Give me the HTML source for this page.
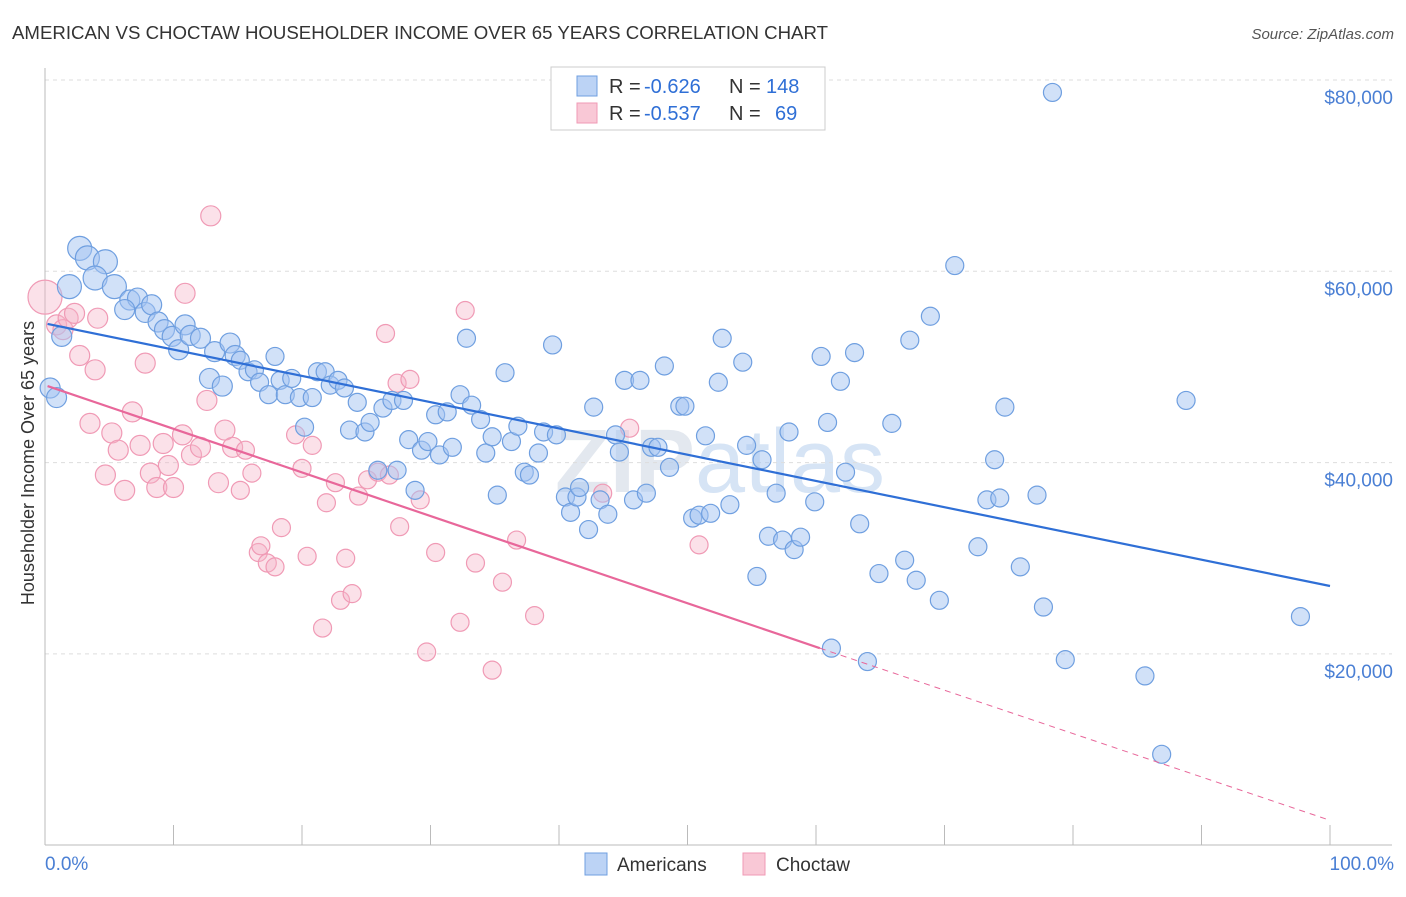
<!DOCTYPE html>
<html><head><meta charset="utf-8"><style>
body{margin:0;background:#fff;font-family:"Liberation Sans",sans-serif}
svg text{font-family:"Liberation Sans",sans-serif}
</style></head><body>
<svg id="chart" width="1406" height="892" xmlns="http://www.w3.org/2000/svg">
<text x="12" y="39" font-size="18" fill="#333" textLength="816" lengthAdjust="spacingAndGlyphs">AMERICAN VS CHOCTAW HOUSEHOLDER INCOME OVER 65 YEARS CORRELATION CHART</text>
<text x="1394" y="39" font-size="15" fill="#555" text-anchor="end" font-style="italic">Source: ZipAtlas.com</text>
<text x="720" y="492" font-size="90" fill="#e3e8ef" text-anchor="middle" font-weight="bold">ZIP<tspan fill="#d6e4f5" font-weight="normal">atlas</tspan></text>
<g id="grid"></g>
<g id="axes"></g>
<g id="pink"></g>
<g id="blue"></g>
<g id="lines"></g>
<text x="0" y="0" transform="translate(34,463) rotate(-90)" font-size="18" fill="#333" text-anchor="middle">Householder Income Over 65 years</text>
<text x="45" y="870" font-size="19" fill="#4a7fd4">0.0%</text>
<text x="1394" y="870" font-size="19" fill="#4a7fd4" text-anchor="end">100.0%</text>
<g>
<rect x="551" y="67" width="274" height="63" fill="#fff" stroke="#ccc"/>
<rect x="577" y="76" width="20" height="20" fill="#bcd3f5" stroke="#6f9fe0"/>
<rect x="577" y="103" width="20" height="20" fill="#f9c8d6" stroke="#f09ab5"/>
<text x="609" y="93" font-size="20" fill="#333">R =</text>
<text x="644" y="93" font-size="20" fill="#2f6fd6">-0.626</text>
<text x="729" y="93" font-size="20" fill="#333">N =</text>
<text x="766" y="93" font-size="20" fill="#2f6fd6">148</text>
<text x="609" y="120" font-size="20" fill="#333">R =</text>
<text x="644" y="120" font-size="20" fill="#2f6fd6">-0.537</text>
<text x="729" y="120" font-size="20" fill="#333">N =</text>
<text x="775" y="120" font-size="20" fill="#2f6fd6">69</text>
</g>
<g>
<rect x="585" y="853" width="22" height="22" fill="#bcd3f5" stroke="#6f9fe0"/>
<text x="617" y="871" font-size="19" fill="#333">Americans</text>
<rect x="743" y="853" width="22" height="22" fill="#f9c8d6" stroke="#f09ab5"/>
<text x="776" y="871" font-size="19" fill="#333">Choctaw</text>
</g>
</svg>
<script>
const yTicks=[20000,40000,60000,80000];
const yTickLabels=["$20,000","$40,000","$60,000","$80,000"];
const blueX=[2.7,3.3,4.7,3.9,1.9,5.4,0.4,0.9,1.3,6.6,7.2,6.2,7.8,8.3,8.8,9.3,9.9,10.4,10.9,11.3,12.1,12.8,13.2,13.8,14.4,14.8,15.2,15.8,16.3,16.7,17.4,17.9,18.3,18.7,19.2,19.8,20.8,21.2,21.8,22.2,22.8,23.3,20.2,23.7,24.3,24.9,25.3,25.9,26.3,27.0,27.4,27.9,28.3,28.8,29.3,29.8,30.4,30.7,31.3,31.7,32.3,32.8,33.2,33.9,34.3,34.8,35.2,35.8,36.3,36.8,37.3,37.7,38.4,38.8,39.5,39.8,40.5,40.9,41.4,41.6,42.3,42.7,43.2,43.8,44.4,44.7,45.1,45.8,46.3,46.8,47.2,47.7,48.2,48.6,49.4,49.8,50.4,50.9,51.4,51.8,52.7,53.3,54.3,52.4,54.6,55.4,55.8,56.3,56.9,57.4,57.9,58.3,58.8,59.9,60.4,60.9,61.2,61.9,62.3,63.0,63.4,64.0,64.9,65.9,66.9,67.3,67.8,68.9,69.6,70.8,72.6,73.3,73.9,74.3,74.7,75.9,77.2,77.7,78.4,79.4,85.6,86.9,88.8,97.7];
const blueY=[62.4,61.4,61.0,59.3,58.4,58.4,47.8,46.8,53.2,57.0,57.2,56.0,55.7,56.5,54.7,53.9,53.2,51.8,54.4,53.3,53.0,48.8,51.6,48.0,52.5,51.2,50.7,49.5,49.7,48.4,47.1,51.1,48.6,47.1,48.8,46.8,46.8,49.5,49.5,48.1,48.6,47.8,43.7,43.4,46.3,43.2,44.2,39.2,45.7,46.5,39.2,46.5,42.4,37.1,41.3,42.2,45.0,40.8,45.3,41.6,47.1,53.0,46.0,44.5,41.0,42.7,36.6,49.4,42.2,43.8,39.0,38.7,41.0,43.2,52.3,42.9,36.4,34.8,36.4,37.4,33.0,45.8,36.1,34.6,42.9,41.1,48.6,36.1,48.6,36.8,41.6,41.6,50.1,39.5,45.9,45.9,34.2,34.5,42.8,34.7,53.0,35.6,50.5,48.4,41.8,28.1,40.3,32.3,36.8,31.9,43.2,30.9,32.2,35.9,51.1,44.2,20.6,48.5,39.0,51.5,33.6,19.2,28.4,44.1,29.8,52.8,27.7,55.3,25.6,60.6,31.2,36.1,40.3,36.3,45.8,29.1,36.6,24.9,78.7,19.4,17.7,9.5,46.5,23.9];
const pinkX=[0,0.9,1.4,1.8,2.3,2.7,3.5,3.9,4.1,4.7,5.2,5.7,6.2,6.8,7.4,7.8,8.2,8.7,9.2,9.6,10.0,10.7,10.9,11.4,12.1,12.6,12.9,13.5,14.0,14.6,15.2,15.6,16.1,16.6,16.8,17.3,17.9,18.4,19.5,20.0,20.4,20.8,21.6,21.9,22.6,23.0,23.4,23.9,24.4,25.1,25.9,26.5,26.8,27.4,27.6,28.4,29.2,29.7,30.4,32.3,32.7,33.5,34.8,35.6,36.7,38.1,43.4,45.5,50.9];
const pinkY=[57.3,54.4,53.9,55.1,55.6,51.2,44.1,49.7,55.1,38.7,43.1,41.3,37.1,45.3,41.8,50.4,38.9,37.4,42.0,39.7,37.4,42.9,57.7,40.8,41.6,46.5,65.8,37.9,43.4,41.6,37.1,41.3,38.9,30.6,31.3,29.5,29.1,33.2,42.9,39.4,30.2,41.8,22.7,35.8,37.9,25.6,30.0,26.3,36.5,38.2,39.0,53.5,38.7,48.3,33.3,48.7,36.1,20.2,30.6,23.3,55.9,29.5,18.3,27.5,31.9,24.0,36.8,43.6,31.4];
const blueTrend=[[0.2,54.5],[100,27.1]];
const pinkTrend=[[0.2,48.0],[60.3,20.6],[100,2.6]];
const NS='http://www.w3.org/2000/svg';
const X=p=>45+p/100*1285;
const Y=k=>80+(80-k)*191.3/20;
function mk(tag,attrs,parent){const e=document.createElementNS(NS,tag);for(const k in attrs)e.setAttribute(k,attrs[k]);parent.appendChild(e);return e;}
const grid=document.getElementById('grid'),axes=document.getElementById('axes');
yTicks.forEach((v,i)=>{const y=Y(v/1000);
 const l=mk('line',{x1:45,x2:1392,y1:y,y2:y,stroke:'#ddd','stroke-dasharray':'4,4'},grid);
 
 
 const t=mk('text',{x:1393,y:y+24,'font-size':19,fill:'#4a7fd4','text-anchor':'end'},axes);
 t.textContent=yTickLabels[i];
 
 
});
mk('line',{x1:45,x2:45,y1:68,y2:845,stroke:'#bbb'},axes);
mk('line',{x1:45,x2:1392,y1:845,y2:845,stroke:'#bbb'},axes);
for(let i=0;i<=10;i++){const x=X(i*10);const t=mk('line',{x1:x,x2:x,y1:825,y2:845,stroke:'#bbb'},axes);
 
 }
function dots(xs,ys,g,fill,stroke,name){xs.forEach((x,i)=>{const r=(x<6&&ys[i]>56)?12:(x<15?10:9);
 const c=mk('circle',{cx:X(x),cy:Y(ys[i]),r:(x===0?17:r),fill:fill,stroke:stroke,'stroke-width':1.2},g);
 
 });}
dots(pinkX,pinkY,document.getElementById('pink'),'rgba(246,180,200,0.4)','#f09ab5','choctaw-point');
dots(blueX,blueY,document.getElementById('blue'),'rgba(164,196,242,0.5)','#6f9fe0','american-point');
const lines=document.getElementById('lines');
const bl=mk('line',{x1:X(blueTrend[0][0]),y1:Y(blueTrend[0][1]),x2:X(blueTrend[1][0]),y2:Y(blueTrend[1][1]),stroke:'#2f6fd6','stroke-width':2.2},lines);


const pl=mk('line',{x1:X(pinkTrend[0][0]),y1:Y(pinkTrend[0][1]),x2:X(pinkTrend[1][0]),y2:Y(pinkTrend[1][1]),stroke:'#e8679a','stroke-width':2.2},lines);


const pd=mk('line',{x1:X(pinkTrend[1][0]),y1:Y(pinkTrend[1][1]),x2:X(pinkTrend[2][0]),y2:Y(pinkTrend[2][1]),stroke:'#e8679a','stroke-width':1,'stroke-dasharray':'6,5'},lines);


</script>
</body></html>
